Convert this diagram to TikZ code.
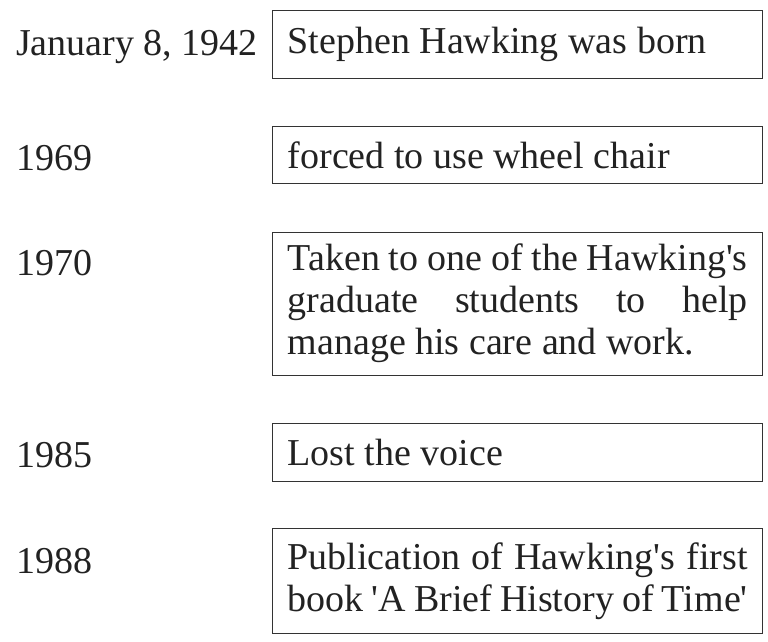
\documentclass[tikz,border=0pt]{standalone}
\usepackage{fontspec}
\setmainfont{Liberation Serif}
\definecolor{txt}{HTML}{222222}
\definecolor{boxc}{HTML}{333333}
\begin{document}
\begin{tikzpicture}[x=1pt,y=-1pt,
  every node/.style={font=\fontsize{38}{42}\selectfont, text=txt},
  evbox/.style={draw=boxc, line width=1.4pt, rectangle, anchor=north west,
    minimum width=490pt, text width=460pt, inner xsep=15pt, inner ysep=0pt, align=justify},
  datelab/.style={anchor=base west, inner sep=0pt}]
\useasboundingbox (0,0) rectangle (768,641);
\node[evbox, minimum height=68pt] (b1) at (272,10) {Stephen Hawking was born};
\node[evbox, minimum height=57.5pt] (b2) at (272,125.5) {forced to use wheel chair};
\node[evbox, minimum height=143pt] (b3) at (272,231.5) {Taken to one of the Hawking\textquotesingle s\linebreak graduate students to help\linebreak manage his care and work.};
\node[evbox, minimum height=57.5pt] (b4) at (272,423) {Lost the voice};
\node[evbox, minimum height=105pt] (b5) at (272,528) {Publication of Hawking\textquotesingle s first\linebreak book \textquotesingle A Brief History of Time\textquotesingle};
\node[datelab] (d1) at (16,55) {January 8, 1942};
\node[datelab] (d2) at (16,170) {1969};
\node[datelab] (d3) at (16,275) {1970};
\node[datelab] (d4) at (16,467) {1985};
\node[datelab] (d5) at (16,573) {1988};
\end{tikzpicture}
\end{document}
